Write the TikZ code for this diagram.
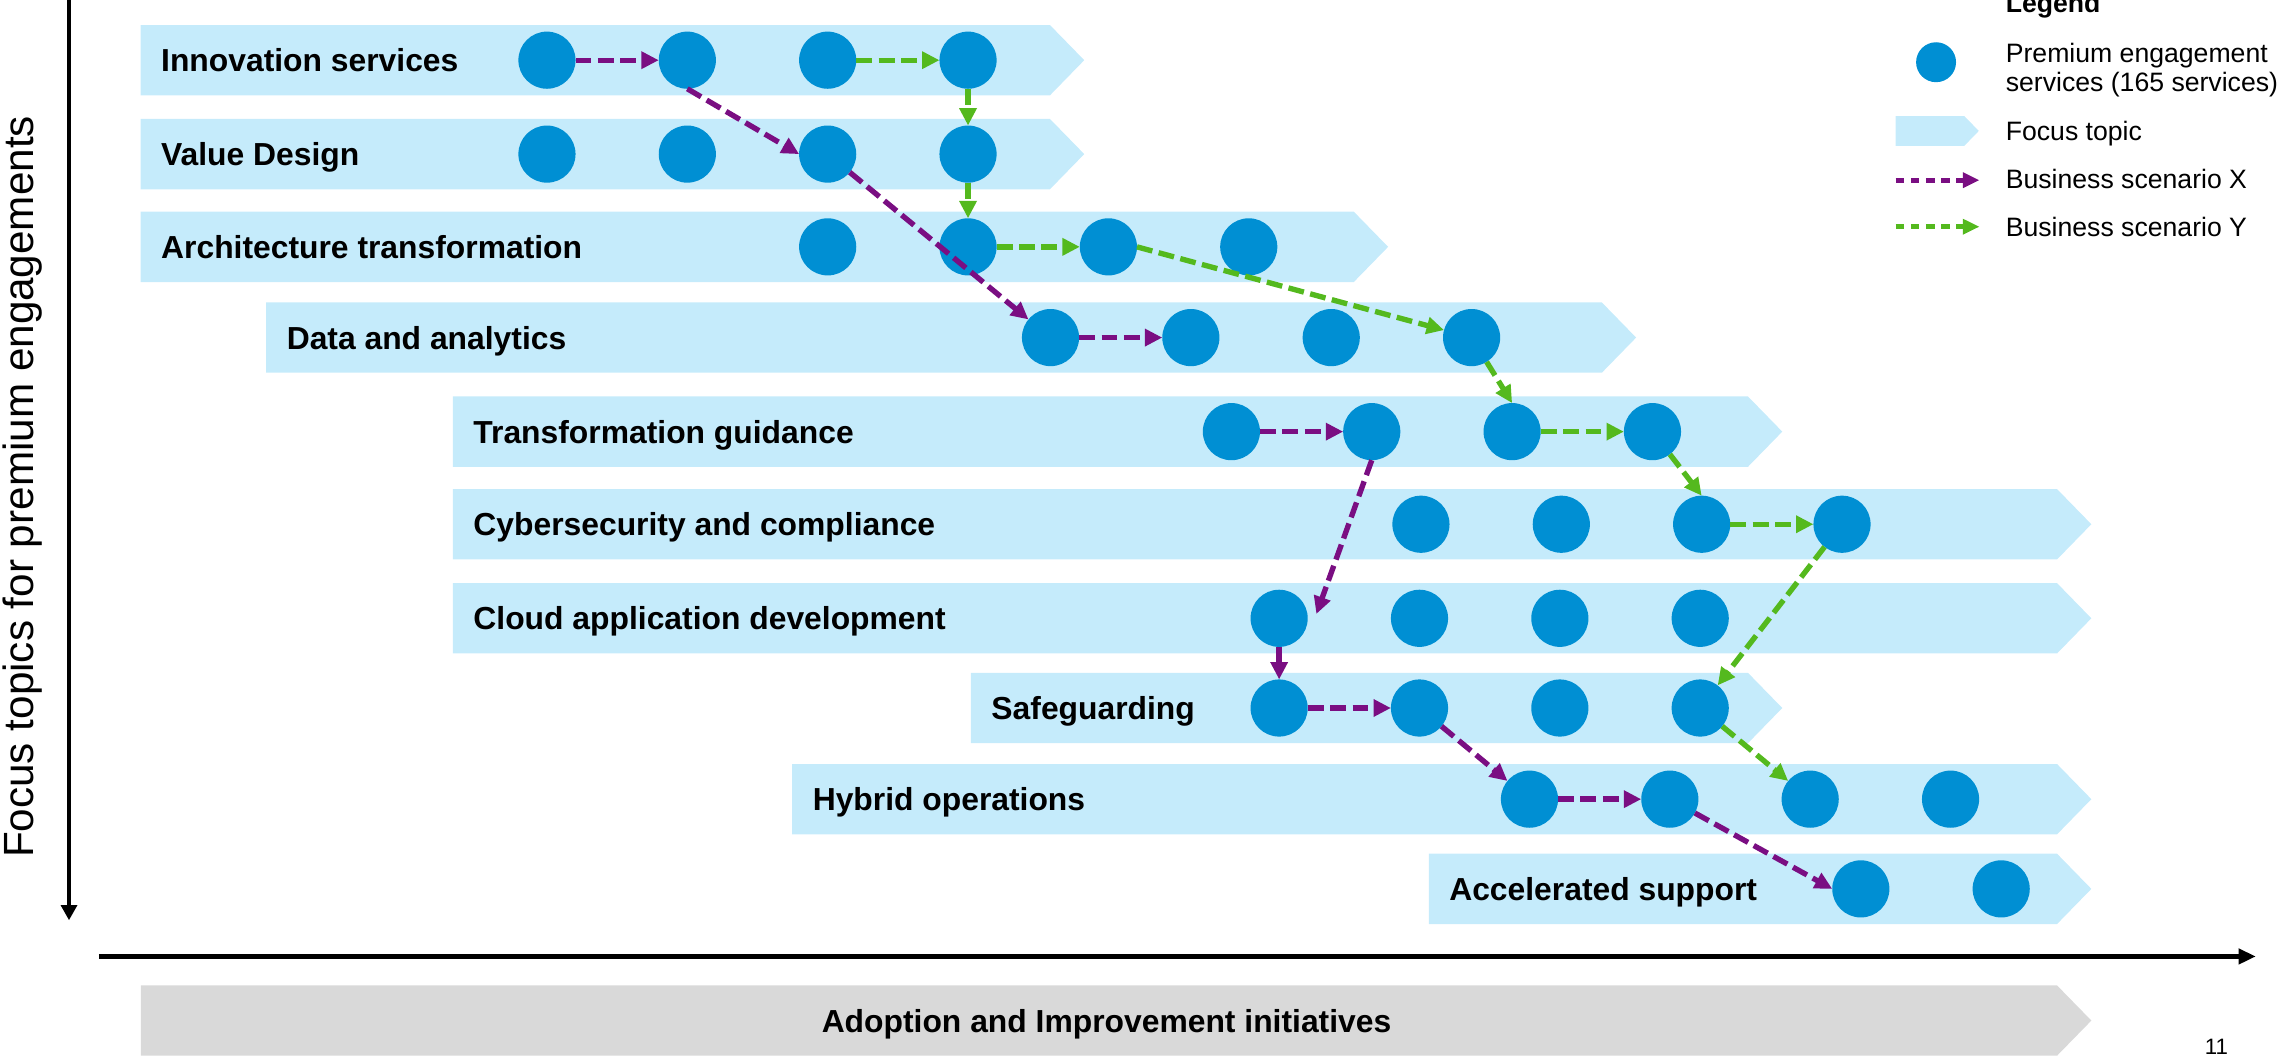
\documentclass[tikz,border=0pt]{standalone}
\usepackage{fontspec}
\setmainfont{Liberation Sans}
\usetikzlibrary{arrows.meta,calc}
\definecolor{bandblue}{RGB}{197,235,251}
\definecolor{svcblue}{RGB}{0,143,211}
\definecolor{purp}{RGB}{122,14,130}
\definecolor{grn}{RGB}{84,185,30}
\definecolor{bandgray}{RGB}{217,217,217}
\newcommand\focusband[4]{\fill[#4] (#1,#3) -- (#2,#3) -- (#2+23.7,#3+24.3) -- (#2,#3+48.6) -- (#1,#3+48.6) -- cycle;}
\begin{document}
\begin{tikzpicture}[x=1pt,y=-1pt,
  svc/.style={circle, fill=svcblue, minimum size=39.5pt, inner sep=0pt, outer sep=0pt},
  lbl/.style={anchor=base west, font=\fontsize{22}{24}\selectfont\bfseries, inner sep=0pt},
  legtxt/.style={anchor=base west, font=\fontsize{18.4}{20.5}\selectfont, inner sep=0pt, align=left},
  xarr/.style={draw=purp, line width=3.7pt, dash pattern=on 11pt off 4.5pt, -{Triangle[length=12pt,width=11.5pt]}},
  yarr/.style={xarr, draw=grn},
  legx/.style={draw=purp, line width=3.5pt, dash pattern=on 6pt off 4.5pt, -{Triangle[length=11.5pt,width=10.2pt]}},
  legy/.style={legx, draw=grn},
  axis/.style={draw=black, line width=3.2pt}
]
\useasboundingbox (0,0) rectangle (1575,729.8);

% focus bands
\focusband{97.2}{725.6}{17.3}{bandblue}
\focusband{97.2}{725.6}{82.2}{bandblue}
\focusband{97.2}{935.6}{146.3}{bandblue}
\focusband{184}{1107}{209}{bandblue}
\focusband{313}{1208}{274}{bandblue}
\focusband{313}{1421.6}{338}{bandblue}
\focusband{313}{1421.6}{403}{bandblue}
\focusband{671}{1208}{465}{bandblue}
\focusband{547.5}{1421.6}{528}{bandblue}
\focusband{987.4}{1421.6}{590}{bandblue}
\focusband{97.4}{1421.6}{681}{bandgray}

% labels
\node[lbl] (l1) at (111.2,49.5) {Innovation services};
\node[lbl] (l2) at (111.2,114.4) {Value Design};
\node[lbl] (l3) at (111.2,178.5) {Architecture transformation};
\node[lbl] (l4) at (198,241.2) {Data and analytics};
\node[lbl] (l5) at (327,306.2) {Transformation guidance};
\node[lbl] (l6) at (327,370.2) {Cybersecurity and compliance};
\node[lbl] (l7) at (327,435.2) {Cloud application development};
\node[lbl] (l8) at (685,497.2) {Safeguarding};
\node[lbl] (l9) at (561.5,560.2) {Hybrid operations};
\node[lbl] (l10) at (1001.4,622.2) {Accelerated support};
\node[lbl, anchor=base] (lg) at (764.7,713.5) {Adoption and Improvement initiatives};

% services
\foreach \x [count=\i] in {378,475,572,669} \node[svc] (r1c\i) at (\x,41.6) {};
\foreach \x [count=\i] in {378,475,572,669} \node[svc] (r2c\i) at (\x,106.5) {};
\foreach \x [count=\i] in {572,669,766,863} \node[svc] (r3c\i) at (\x,170.6) {};
\foreach \x [count=\i] in {726,823,920,1017} \node[svc] (r4c\i) at (\x,233.3) {};
\foreach \x [count=\i] in {851,948,1045,1142} \node[svc] (r5c\i) at (\x,298.3) {};
\foreach \x [count=\i] in {982,1079,1176,1273} \node[svc] (r6c\i) at (\x,362.3) {};
\foreach \x [count=\i] in {884,981,1078,1175} \node[svc] (r7c\i) at (\x,427.3) {};
\foreach \x [count=\i] in {884,981,1078,1175} \node[svc] (r8c\i) at (\x,489.3) {};
\foreach \x [count=\i] in {1057,1154,1251,1348} \node[svc] (r9c\i) at (\x,552.3) {};
\foreach \x [count=\i] in {1286,1383} \node[svc] (r10c\i) at (\x,614.3) {};

% business scenario Y (green)
\draw[yarr] (r1c3) -- (r1c4);
\draw[yarr] (r1c4) -- (r2c4);
\draw[yarr] (r2c4) -- (r3c2);
\draw[yarr] (r3c2) -- (r3c3);
\draw[yarr] (r3c3.east) -- (r4c4);
\draw[yarr] (r4c4) -- (r5c3.north);
\draw[yarr] (r5c3) -- (r5c4);
\draw[yarr] (r5c4) -- (r6c3.north);
\draw[yarr] (r6c3) -- (r6c4);
\draw[yarr] (r6c4) -- (r8c4);
\draw[yarr] (r8c4) -- (r9c3);

% business scenario X (purple)
\draw[xarr] (r1c1) -- (r1c2);
\draw[xarr] (r1c2.south) -- (r2c3.west);
\draw[xarr] (r2c3) -- (r4c1);
\draw[xarr] (r4c1) -- (r4c2);
\draw[xarr] (r5c1) -- (r5c2);
\coordinate (x7end) at ($(r7c1.east)+(6,-3)$);
\draw[xarr] (r5c2.south) -- (x7end);
\draw[xarr] (r7c1) -- (r8c1);
\draw[xarr] (r8c1) -- (r8c2);
\draw[xarr] (r8c2) -- (r9c1);
\draw[xarr] (r9c1) -- (r9c2);
\draw[xarr] (r9c2) -- (r10c1.west);

% axes
\coordinate (vtop) at (47.7,0);
\coordinate (vbot) at (47.7,636);
\draw[axis, -{Triangle[length=10.4pt,width=10.8pt]}] (vtop) -- (vbot);
\coordinate (hl) at (68.4,661);
\coordinate (hr) at (1559,661);
\draw[axis, -{Triangle[length=12pt,width=10.4pt]}] (hl) -- (hr);
\node[rotate=90, anchor=base, inner sep=0pt, font=\fontsize{29.2}{32}\selectfont] (ytitle) at (23,336.5) {Focus topics for premium engagements};

% page number
\node[anchor=base west, inner sep=0pt, font=\fontsize{15.4}{17}\selectfont] (pg) at (1523.5,729) {11};

% legend
\node[legtxt, font=\fontsize{18.4}{20.5}\selectfont\bfseries] (legtitle) at (1386,8.5) {Legend};
\node[svc, minimum size=27.6pt] (legsvc) at (1338,43) {};
\node[legtxt] (legsvct) at (1386,63.5) {Premium engagement\\services (165 services)};
\fill[bandblue] (1310,80.2) -- (1357.5,80.2) -- (1367.5,90.5) -- (1357.5,100.8) -- (1310,100.8) -- cycle;
\node[legtxt] (legband) at (1386,97) {Focus topic};
\coordinate (lxa) at (1310,124.5);
\coordinate (lxb) at (1368,124.5);
\draw[legx] (lxa) -- (lxb);
\node[legtxt] (legxt) at (1386,130.5) {Business scenario X};
\coordinate (lya) at (1310,156.7);
\coordinate (lyb) at (1368,156.7);
\draw[legy] (lya) -- (lyb);
\node[legtxt] (legyt) at (1386,163.6) {Business scenario Y};
\end{tikzpicture}
\end{document}
